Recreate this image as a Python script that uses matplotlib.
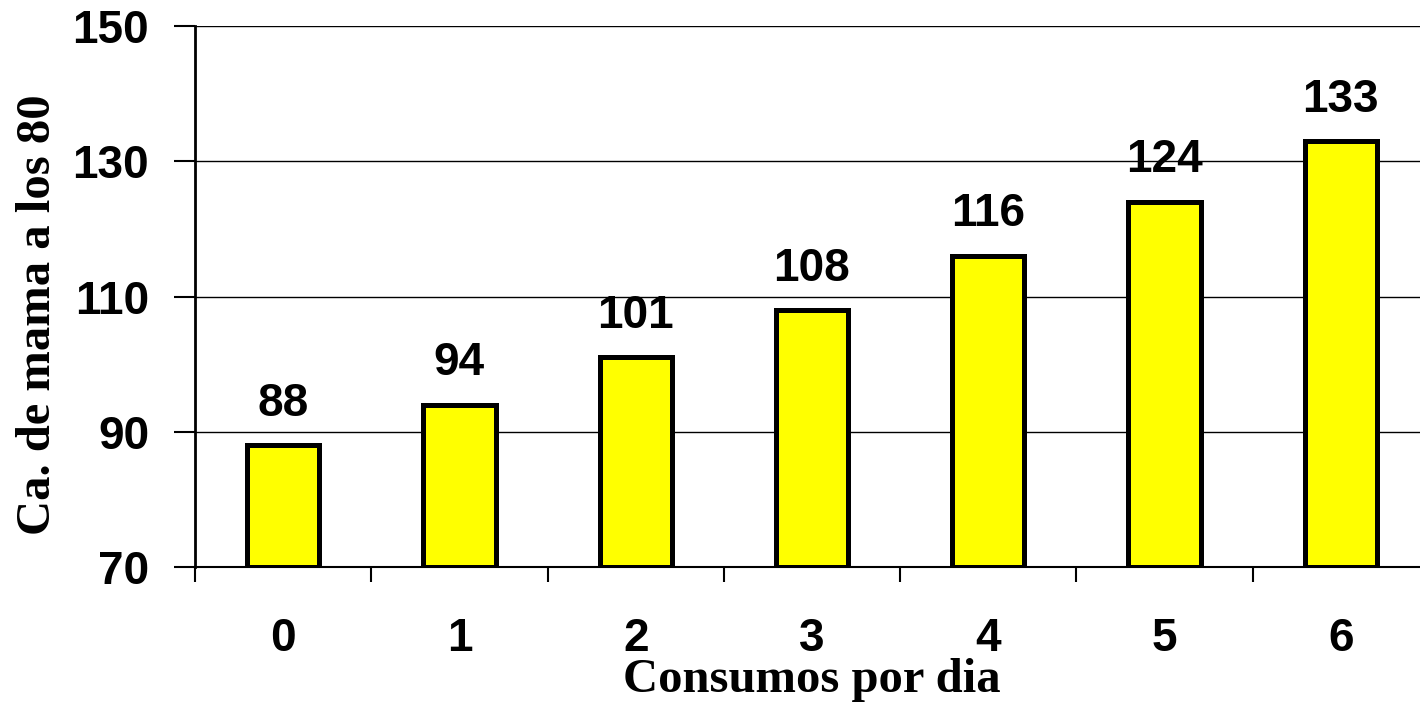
import matplotlib
matplotlib.use("Agg")
import matplotlib.pyplot as plt

categories = ["0", "1", "2", "3", "4", "5", "6"]
values = [88, 94, 101, 108, 116, 124, 133]
y_ticks = [70, 90, 110, 130, 150]

W, H = 1420, 703
fig = plt.figure(figsize=(W / 100, H / 100), dpi=100)
ax = fig.add_axes([195 / W, 1 - 567 / H, (1429 - 195) / W, (567 - 26) / H])

x = list(range(len(categories)))
ax.bar(x, [v - 70 for v in values], bottom=70, width=0.41,
       color="#FFFF00", edgecolor="black", linewidth=3.6, zorder=3)

for xi, v in zip(x, values):
    ax.annotate(str(v), (xi, v), xytext=(0, 14), textcoords="offset points",
                ha="center", va="bottom", fontsize=33, fontweight="bold",
                family="Liberation Sans", zorder=4)

ax.set_xlim(-0.5, 6.5)
ax.set_ylim(70, 150)
ax.set_yticks(y_ticks)
ax.set_yticklabels([str(t) for t in y_ticks], fontsize=33, fontweight="bold",
                   family="Liberation Sans")
ax.yaxis.grid(True, color="black", linewidth=1.0, zorder=0)
ax.set_axisbelow(True)

# category labels sit between boundary ticks
ax.set_xticks([i + 0.5 for i in range(-1, len(categories))])
ax.set_xticklabels([])
ax.set_xticks(x, minor=True)
ax.set_xticklabels(categories, minor=True, fontsize=33, fontweight="bold",
                   family="Liberation Sans")
ax.tick_params(axis="x", which="minor", length=0, pad=36)
ax.tick_params(axis="x", which="major", direction="out", length=11, width=1.5)
ax.tick_params(axis="y", direction="out", length=15, width=1.5, pad=18)

for side in ["top", "right"]:
    ax.spines[side].set_visible(False)
ax.spines["left"].set_linewidth(2.0)
ax.spines["bottom"].set_linewidth(1.5)

fig.text(812 / W, 1 - 692 / H, "Consumos por dia", fontsize=35,
         fontweight="bold", family="Liberation Serif",
         ha="center", va="baseline")
fig.text(38 / W, 1 - 315 / H, "Ca. de mama a los 80", fontsize=35,
         fontweight="bold", family="Liberation Serif",
         ha="center", va="center", rotation=90)

fig.savefig("out.png", dpi=100)
